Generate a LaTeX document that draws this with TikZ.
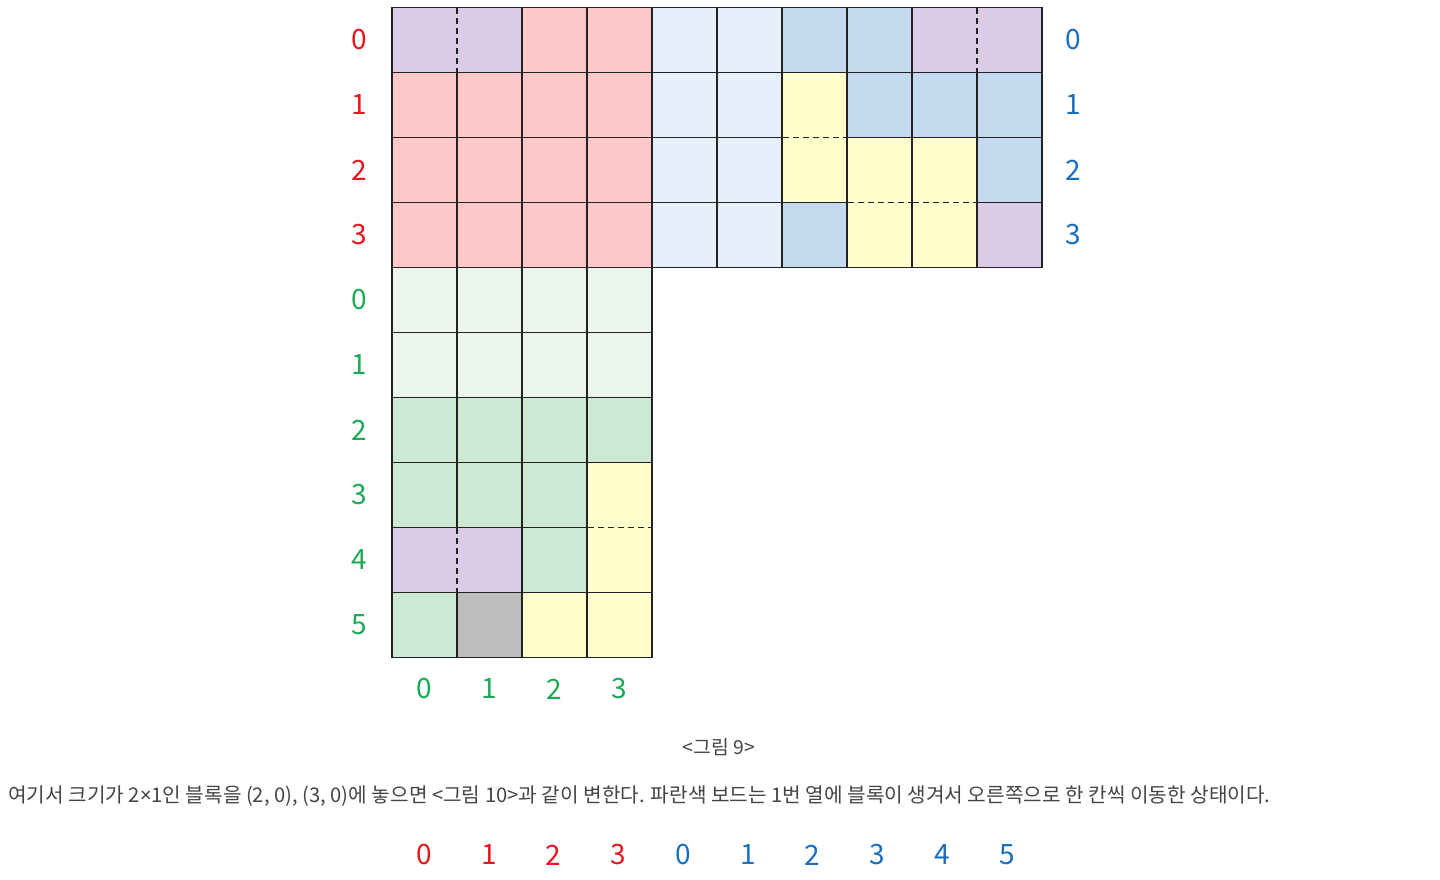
\documentclass[tikz,border=0pt]{standalone}
\usepackage{fontspec}
\setmainfont{Noto Sans CJK KR}
\newfontfamily\latinsans{Noto Sans}
\begin{document}
\begin{tikzpicture}[x=0.75pt,y=-0.75pt]
\definecolor{cpink}{HTML}{FFC8C8}
\definecolor{cpurple}{HTML}{DCCBE6}
\definecolor{clblue}{HTML}{E7F0FA}
\definecolor{cblue}{HTML}{C5DAEE}
\definecolor{cyellow}{HTML}{FFFFCE}
\definecolor{clgreen}{HTML}{EBF5EC}
\definecolor{cgreen}{HTML}{CDE9D4}
\definecolor{cgray}{HTML}{BDBDBD}
\definecolor{tred}{HTML}{E8161C}
\definecolor{tblue}{HTML}{1A6EBD}
\definecolor{tgreen}{HTML}{1BAA56}
\definecolor{ttext}{HTML}{444444}
\definecolor{cline}{HTML}{222222}
\tikzset{
  gridline/.style={draw=cline,line width=1.4pt},
  dashline/.style={draw=cline,line width=1.2pt,dash pattern=on 4.5pt off 3pt},
  numlbl/.style={font=\fontsize{21pt}{24pt}\selectfont,inner sep=0pt,anchor=center},
}
\useasboundingbox (0,0) rectangle (1440,880);
\fill[white] (0,0) rectangle (1440,880);
% cells: col/row/color
\foreach \c/\r/\col in {
 0/0/cpurple,1/0/cpurple,2/0/cpink,3/0/cpink,
 0/1/cpink,1/1/cpink,2/1/cpink,3/1/cpink,
 0/2/cpink,1/2/cpink,2/2/cpink,3/2/cpink,
 0/3/cpink,1/3/cpink,2/3/cpink,3/3/cpink,
 4/0/clblue,5/0/clblue,6/0/cblue,7/0/cblue,8/0/cpurple,9/0/cpurple,
 4/1/clblue,5/1/clblue,6/1/cyellow,7/1/cblue,8/1/cblue,9/1/cblue,
 4/2/clblue,5/2/clblue,6/2/cyellow,7/2/cyellow,8/2/cyellow,9/2/cblue,
 4/3/clblue,5/3/clblue,6/3/cblue,7/3/cyellow,8/3/cyellow,9/3/cpurple,
 0/4/clgreen,1/4/clgreen,2/4/clgreen,3/4/clgreen,
 0/5/clgreen,1/5/clgreen,2/5/clgreen,3/5/clgreen,
 0/6/cgreen,1/6/cgreen,2/6/cgreen,3/6/cgreen,
 0/7/cgreen,1/7/cgreen,2/7/cgreen,3/7/cyellow,
 0/8/cpurple,1/8/cpurple,2/8/cgreen,3/8/cyellow,
 0/9/cgreen,1/9/cgray,2/9/cyellow,3/9/cyellow}
 {\fill[\col] ({392+65*\c},{7.5+65*\r}) rectangle ++(65,65);}
% solid outlines of every cell
\foreach \c/\r in {0/0,1/0,2/0,3/0,0/1,1/1,2/1,3/1,0/2,1/2,2/2,3/2,0/3,1/3,2/3,3/3,
 4/0,5/0,6/0,7/0,8/0,9/0,4/1,5/1,6/1,7/1,8/1,9/1,4/2,5/2,6/2,7/2,8/2,9/2,4/3,5/3,6/3,7/3,8/3,9/3,
 0/4,1/4,2/4,3/4,0/5,1/5,2/5,3/5,0/6,1/6,2/6,3/6,0/7,1/7,2/7,3/7,0/8,1/8,2/8,3/8,0/9,1/9,2/9,3/9}
 {\draw[gridline] ({392+65*\c},{7.5+65*\r}) rectangle ++(65,65);}
% dashed inner edges of dominoes
\foreach \c/\r/\col in {1/0/cpurple,9/0/cpurple,1/8/cpurple}{
  \draw[\col,line width=2.2pt] ({392+65*\c},{7.5+65*\r+1.5}) -- ++(0,62);
  \draw[dashline] ({392+65*\c},{7.5+65*\r+1}) -- ++(0,63);
}
\foreach \c/\r in {6/2,7/3,8/3,3/8}{
  \draw[cyellow,line width=2.2pt] ({392+65*\c+1.5},{7.5+65*\r}) -- ++(62,0);
  \draw[dashline] ({392+65*\c+1},{7.5+65*\r}) -- ++(63,0);
}
% labels
\foreach \i in {0,1,2,3}{
  \node[numlbl,text=tred] (rr\i) at (359,{40+65*\i}) {\i};
  \node[numlbl,text=tblue] (br\i) at (1073,{40+65*\i}) {\i};
}
\foreach \i in {0,...,5}{
  \node[numlbl,text=tgreen] (gr\i) at (359,{300+65*\i}) {\i};
}
\foreach \i in {0,...,3}{
  \node[numlbl,text=tgreen] (gc\i) at ({424.5+65*\i},689) {\i};
  \node[numlbl,text=tred] (bc\i) at ({424+64.8*\i},855) {\i};
}
\foreach \i in {0,...,5}{
  \node[numlbl,text=tblue] (bb\i) at ({683+64.8*\i},855) {\i};
}
\node[font=\fontsize{14.5pt}{16pt}\selectfont,text=ttext,inner sep=0pt] (cap) at (719,747) {<그림 9>};
\node[font=\fontsize{15.15pt}{18pt}\selectfont,text=ttext,inner sep=0pt,anchor=west] (para) at (8,796)
 {여기서 크기가 2{\latinsans ×}1인 블록을 (2, 0), (3, 0)에 놓으면 <그림 10>과 같이 변한다. 파란색 보드는 1번 열에 블록이 생겨서 오른쪽으로 한 칸씩 이동한 상태이다.};
\end{tikzpicture}
\end{document}
